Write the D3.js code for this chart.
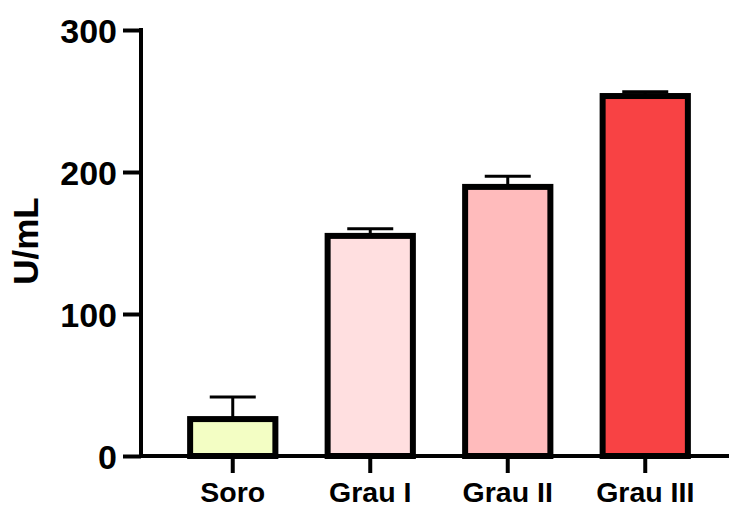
<!DOCTYPE html>
<html>
<head>
<meta charset="utf-8">
<script src="https://cdn.jsdelivr.net/npm/d3@7"></script>
<style>
  html, body { margin: 0; padding: 0; background: #fff; }
  svg { display: block; }
  text { font-family: "Liberation Sans", Arial, sans-serif; font-weight: bold; fill: #000; }
</style>
</head>
<body>
<svg id="chart" width="730" height="508"></svg>
<script>
// Enzyme activity by group (mean with SD above)
const categories = ["Soro", "Grau I", "Grau II", "Grau III"];
const means = [26, 155, 189.5, 253.5];
const sd = [15.5, 5, 7.5, 3];
const fills = ["#F3FEC4", "#FFDFE0", "#FFBBBC", "#F84244"];
const yTicks = [0, 100, 200, 300];

const svg = d3.select("#chart");
const axisX = 141, baseY = 456;

const x = d3.scaleBand().domain(categories).range([164, 714]);
const y = d3.scaleLinear().domain([0, 300]).range([baseY, 30]);
const barW = x.step() * 0.62;

// error bars (upper only)
const err = svg.append("g");
categories.forEach((c, i) => {
  const cx = x(c) + x.bandwidth() / 2;
  err.append("line")
    .attr("x1", cx).attr("x2", cx)
    .attr("y1", y(means[i])).attr("y2", y(means[i] + sd[i]))
    .attr("stroke", "#000").attr("stroke-width", 3);
  err.append("line")
    .attr("x1", cx - 23).attr("x2", cx + 23)
    .attr("y1", y(means[i] + sd[i])).attr("y2", y(means[i] + sd[i]))
    .attr("stroke", "#000").attr("stroke-width", 3);
});

// bars
svg.append("g").selectAll("rect")
  .data(categories)
  .join("rect")
  .attr("x", c => x(c) + x.bandwidth() / 2 - barW / 2)
  .attr("width", barW)
  .attr("y", (c, i) => y(means[i]))
  .attr("height", (c, i) => baseY - y(means[i]))
  .attr("fill", (c, i) => fills[i])
  .attr("stroke", "#000")
  .attr("stroke-width", 6);

// y axis
const yAxis = svg.append("g")
  .attr("transform", `translate(${axisX},0)`)
  .call(d3.axisLeft(y).tickValues(yTicks).tickSize(18).tickPadding(6));
yAxis.select(".domain").remove();
yAxis.append("line")
  .attr("x1", 0).attr("x2", 0).attr("y1", y(300) - 2).attr("y2", baseY + 2)
  .attr("stroke", "#000").attr("stroke-width", 4);
yAxis.selectAll(".tick line").attr("stroke", "#000").attr("stroke-width", 4);
yAxis.selectAll(".tick text")
  .style("font-size", "34px").style("font-weight", "bold")
  .attr("dy", "0.36em");

// x axis
const xAxis = svg.append("g")
  .attr("transform", `translate(0,${baseY})`)
  .call(d3.axisBottom(x).tickSize(17).tickPadding(9));
xAxis.select(".domain").remove();
xAxis.append("line")
  .attr("x1", axisX - 2).attr("x2", 729).attr("y1", 0).attr("y2", 0)
  .attr("stroke", "#000").attr("stroke-width", 4);
xAxis.selectAll(".tick line").attr("stroke", "#000").attr("stroke-width", 4);
xAxis.selectAll(".tick text")
  .style("font-size", "28.5px").style("font-weight", "bold");

// y axis title
svg.append("text")
  .attr("transform", `translate(38,241) rotate(-90)`)
  .attr("text-anchor", "middle")
  .style("font-size", "35px")
  .text("U/mL");
</script>
</body>
</html>
